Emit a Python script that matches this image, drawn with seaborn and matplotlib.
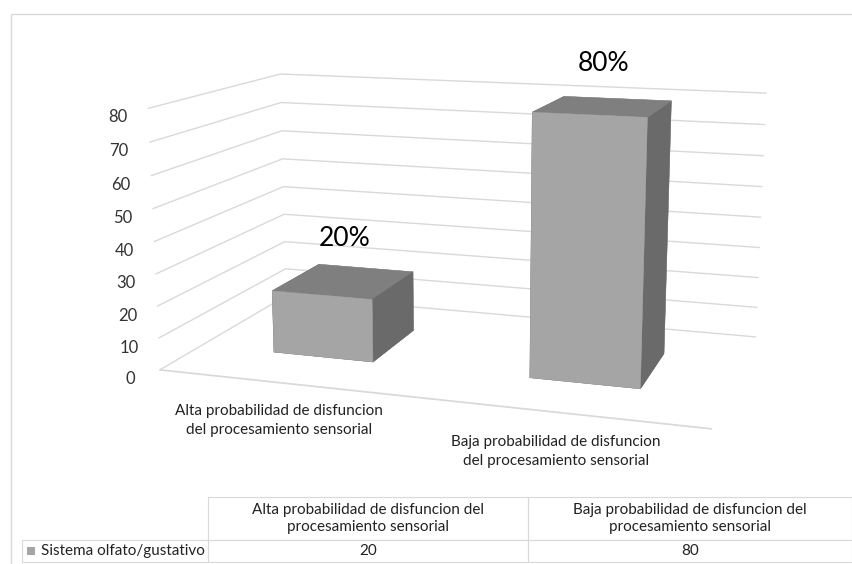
import numpy as np
import matplotlib
matplotlib.use("Agg")
import matplotlib.pyplot as plt
import matplotlib.transforms as mtransforms
import seaborn as sns
from matplotlib.table import Table
from matplotlib.patches import Rectangle
from mpl_toolkits.mplot3d import proj3d

# ---- data ----
categories = ["Alta probabilidad de disfuncion\ndel procesamiento sensorial",
              "Baja probabilidad de disfuncion\ndel procesamiento sensorial"]
table_columns = ["Alta probabilidad de disfuncion del\nprocesamiento sensorial",
                 "Baja probabilidad de disfuncion del\nprocesamiento sensorial"]
series_name = "Sistema olfato/gustativo"
values = [20, 80]
value_labels = ["20%", "80%"]
z_ticks = [0, 10, 20, 30, 40, 50, 60, 70, 80]

sns.set_theme(style="white")
plt.rcParams["font.family"] = ["Lato", "DejaVu Sans"]

W_PX, H_PX = 853, 564
fig = plt.figure(figsize=(W_PX / 100, H_PX / 100), dpi=100)
fig.patch.set_facecolor("white")


def hide_titles(a):
    for t in (a.title, a._left_title, a._right_title):
        t.set_visible(False)


# ---- 3D column chart ----
ax = fig.add_axes([0, 0, 1, 1], projection="3d")
ax.set_proj_type("persp", focal_length=0.43)
ax.view_init(elev=12.5, azim=-72)
ax.set_box_aspect((1.93, 1.05, 0.92))

n = len(categories)
ax.set_xlim(0, n)
ax.set_ylim(0, 1)
ax.set_zlim(0, max(z_ticks))

front_c, top_c, side_c = "#a5a5a5", "#7f7f7f", "#6a6a6a"
bar_w, bar_d = 0.4, 0.4
# bar3d face order: bottom, top, front(-y), back(+y), left(-x), right(+x)
faces = [side_c, top_c, front_c, front_c, side_c, side_c]
# value labels sit a fixed distance above the centre of each bar's top
label_tf = mtransforms.offset_copy(ax.transData, fig=fig, x=0, y=43,
                                   units="dots")
for i, v in enumerate(values):
    ax.bar3d(i + 0.5 - bar_w / 2, 0.5 - bar_d / 2, 0, bar_w, bar_d, v,
             color=faces, shade=False, edgecolor=faces, linewidth=0.3)
    ax.text(i + 0.5, 0.5, v, value_labels[i], ha="center", va="center",
            fontsize=19, color="black", transform=label_tf)

ax.grid(True)
for axis in (ax.xaxis, ax.yaxis, ax.zaxis):
    axis.set_pane_color((1, 1, 1, 0))
    axis.pane.set_edgecolor((1, 1, 1, 0))
    axis._axinfo["tick"]["inward_factor"] = 0.0
    axis._axinfo["tick"]["outward_factor"] = 0.0
    axis.label.set_visible(False)
    axis.offsetText.set_visible(False)
hide_titles(ax)
ax.xaxis._axinfo["grid"]["color"] = (1, 1, 1, 0)
ax.zaxis._axinfo["grid"].update({"color": "#d9d9d9", "linewidth": 1.0,
                                 "linestyle": "-"})
ax.xaxis.line.set_color("#d9d9d9")
ax.yaxis.line.set_color((1, 1, 1, 0))
ax.zaxis.line.set_color((1, 1, 1, 0))
ax.zaxis.set_ticks_position("lower")
ax.set_yticks([])
ax.set_xticks([i + 0.5 for i in range(n)], labels=categories)
ax.set_zticks(z_ticks)
ax.tick_params(axis="z", labelsize=12, labelcolor="#333333", pad=3)
ax.tick_params(axis="x", labelsize=11, labelcolor="#222222", pad=6)
for lab in ax.get_xticklabels():
    lab.set_linespacing(1.5)
ax.set_facecolor((1, 1, 1, 0))

# place the 3D box so that its corners sit at the wanted pixel positions
box_corners = np.array([[0, 0, 0], [n, 0, 0], [n, 1, 0], [0, 1, 0],
                        [0, 0, 80], [n, 1, 80]], dtype=float)
corner_px = np.array([[163, 362], [710, 433], [757, 339], [283, 290],
                      [145, 110], [770, 99]], dtype=float)
M = ax.get_proj()
px, py, _ = proj3d.proj_transform(box_corners[:, 0], box_corners[:, 1],
                                  box_corners[:, 2], M)
vx0, vx1 = ax.viewLim.intervalx
vy0, vy1 = ax.viewLim.intervaly
rows, rhs = [], []
for k in range(len(px)):
    rows.append([1, 0, (px[k] - vx0) / (vx1 - vx0)])
    rhs.append(corner_px[k, 0])
    rows.append([0, 1, (py[k] - vy0) / (vy1 - vy0)])
    rhs.append(H_PX - corner_px[k, 1])
L, B, S = np.linalg.lstsq(np.array(rows), np.array(rhs), rcond=None)[0]
ax.set_position([L / W_PX, B / H_PX, S / W_PX, S / H_PX])

# ---- data table under the chart ----
tax = fig.add_axes([0, 0, 1, 1])
tax.set_axis_off()
tax.patch.set_visible(False)
hide_titles(tax)
tax.set_xlim(0, W_PX)
tax.set_ylim(H_PX, 0)

tbl = Table(tax, bbox=[22 / W_PX, (H_PX - 562) / H_PX,
                       (W_PX - 1 - 22) / W_PX, (562 - 497) / H_PX])
col_w = [208 - 22, 528 - 208, W_PX - 1 - 528]
row_h = [43, 22]
corner = tbl.add_cell(0, 0, col_w[0], row_h[0], text="")
corner.visible_edges = "open"
for j, lab in enumerate(table_columns):
    tbl.add_cell(0, j + 1, col_w[j + 1], row_h[0], text=lab, loc="center")
tbl.add_cell(1, 0, col_w[0], row_h[1], text=series_name, loc="left")
for j, v in enumerate(values):
    tbl.add_cell(1, j + 1, col_w[j + 1], row_h[1], text=str(v), loc="center")
tbl.auto_set_font_size(False)
for cell in tbl.get_celld().values():
    cell.set_edgecolor("#d9d9d9")
    cell.set_linewidth(0.8)
    cell.set_facecolor("none")
    cell.get_text().set_fontsize(11)
    cell.get_text().set_color("#222222")
    cell.get_text().set_linespacing(1.3)
tax.add_table(tbl)
# legend key of the series
tax.scatter([31], [551], marker="s", s=30, color=front_c, linewidths=0)

# outer chart frame
fig.add_artist(Rectangle((11 / W_PX, -0.05), 1.2, (H_PX - 14) / H_PX + 0.05,
                         transform=fig.transFigure, fill=False,
                         edgecolor="#d9d9d9", linewidth=1))

fig.savefig("out.png", dpi=100)
